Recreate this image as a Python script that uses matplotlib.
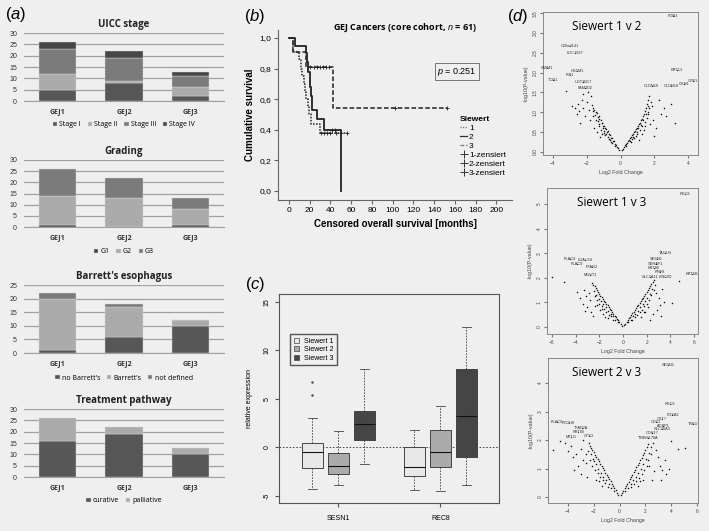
import numpy as np
import matplotlib
matplotlib.use("Agg")
import matplotlib.pyplot as plt
from matplotlib.lines import Line2D
from matplotlib.patches import Patch

plt.rcParams["font.family"] = ["Liberation Sans", "DejaVu Sans"]
plt.rcParams["mathtext.fontset"] = "custom"
plt.rcParams["mathtext.it"] = "Liberation Sans:italic"
plt.rcParams["mathtext.rm"] = "Liberation Sans"
plt.rcParams["mathtext.bf"] = "Liberation Sans:bold"

W, H = 709, 531
BG = "#efefef"

# ---- (a) stacked bars ----
groups = ["GEJ1", "GEJ2", "GEJ3"]

uicc_labels = ["Stage I", "Stage II", "Stage III", "Stage IV"]
uicc_stage_i = [5, 8, 2]
uicc_stage_ii = [7, 1, 4]
uicc_stage_iii = [11, 10, 5]
uicc_stage_iv = [3, 3, 2]

grading_labels = ["G1", "G2", "G3"]
grading_g1 = [1, 0, 1]
grading_g2 = [13, 13, 7]
grading_g3 = [12, 9, 5]

barrett_labels = ["no Barrett's", "Barrett's", "not defined"]
barrett_no = [1, 6, 10]
barrett_yes = [19, 11, 2]
barrett_nd = [2, 1, 0]

treatment_labels = ["curative", "palliative"]
treatment_curative = [16, 19, 10]
treatment_palliative = [10, 3, 3]

# ---- (b) Kaplan-Meier ----
km_names = ["1", "2", "3"]
km1_times = [0, 4, 10, 12, 13, 14, 15, 16, 18, 19, 21, 30]
km1_surv = [1.0, 0.91, 0.86, 0.80, 0.75, 0.70, 0.65, 0.60, 0.55, 0.50, 0.44, 0.38]
km1_end = 56
km1_censored = [31, 34, 37, 40, 45, 50, 56]
km2_times = [0, 6, 16, 17, 18.5, 20, 21, 22, 27, 34, 50]
km2_surv = [1.0, 0.95, 0.90, 0.84, 0.78, 0.68, 0.62, 0.53, 0.47, 0.40, 0.0]
km2_end = 50
km2_censored = [41, 44]
km3_times = [0, 4, 16, 42]
km3_surv = [1.0, 0.91, 0.81, 0.54]
km3_end = 152
km3_censored = [20, 24, 27, 30, 33, 36, 39, 102, 152]

# ---- (c) box plot ----
genes = ["SESN1", "REC8"]
box_groups = ["Siewert 1", "Siewert 2", "Siewert 3"]
# [whislo, q1, med, q3, whishi]
sesn1_s1 = [-4.3, -2.16, -0.52, 0.41, 2.99]
sesn1_s2 = [-3.85, -2.75, -1.86, -0.55, 1.68]
sesn1_s3 = [-1.72, 0.72, 2.37, 3.71, 8.1]
rec8_s1 = [-4.38, -2.9, -1.98, 0.08, 1.8]
rec8_s2 = [-4.45, -2.04, -0.5, 1.77, 4.28]
rec8_s3 = [-3.9, -1.01, 3.21, 8.09, 12.45]
sesn1_s1_outliers = [6.77, 5.4]

# ---- (d) volcano plots ----
v12_x = [-0.08, -0.15, -0.2, -0.28, -0.33, -0.4, -0.45, -0.52, -0.58, -0.63, -0.7, -0.76, -0.8, -0.86,
         -0.92, -0.97, -1.02, -1.08, -1.12, -1.18, -1.25, -1.3, -1.36, -1.42, -1.48, -1.55, -1.62, -1.7,
         -0.5, -0.7, -0.9, -1.0, -1.15, -1.3, -1.45, -1.6, -1.2, -1.55,
         -0.35, -0.55, -0.75, -0.95, -1.05, -1.25, -1.35, -1.5, -1.65, -0.65, -0.85, -1.4, -1.1,
         -2.9, -2.7, -2.5, -2.6, -2.3, -2.2, -2.0, -1.95, -2.1, -2.4, -3.25, -1.85, -1.8, -2.2, -2.45, -1.75,
         0.08, 0.14, 0.2, 0.26, 0.32, 0.38, 0.45, 0.5, 0.57, 0.62, 0.68, 0.74, 0.8, 0.86, 0.92, 0.98,
         1.04, 1.1, 1.16, 1.22, 1.28, 1.34, 1.4, 1.46, 1.52, 1.58, 1.62, 1.68,
         0.6, 0.8, 1.0, 1.15, 1.3, 1.45, 1.1, 1.4, 1.6, 1.55,
         0.35, 0.55, 0.75, 0.95, 1.05, 1.2, 1.35, 1.5, 1.65, 0.7, 0.9, 1.25, 1.45,
         1.7, 1.8, 1.65, 1.9, 2.1, 1.75, 2.4, 2.6, 2.7, 3.0, 3.2, 2.3, 1.85, 2.0]
v12_y = [0.04, 0.1, 0.12, 0.18, 0.2, 0.27, 0.28, 0.35, 0.36, 0.43, 0.45, 0.52, 0.5, 0.58,
         0.6, 0.66, 0.64, 0.73, 0.72, 0.8, 0.82, 0.9, 0.88, 0.97, 1.0, 1.05, 1.1, 1.18,
         0.22, 0.33, 0.42, 0.52, 0.55, 0.65, 0.8, 0.9, 0.38, 0.6,
         0.15, 0.25, 0.38, 0.48, 0.6, 0.7, 0.78, 0.92, 1.02, 0.3, 0.44, 0.5, 0.45,
         1.15, 1.1, 1.2, 0.95, 1.3, 1.45, 1.25, 1.5, 0.9, 0.72, 1.53, 1.05, 0.8, 1.1, 1.02, 1.4,
         0.05, 0.08, 0.13, 0.16, 0.2, 0.23, 0.28, 0.3, 0.36, 0.38, 0.43, 0.45, 0.5, 0.53, 0.58, 0.6,
         0.66, 0.7, 0.74, 0.8, 0.84, 0.9, 0.95, 1.02, 1.1, 1.2, 1.3, 1.42,
         0.25, 0.35, 0.45, 0.55, 0.65, 0.75, 0.3, 0.55, 1.0, 0.85,
         0.15, 0.27, 0.38, 0.5, 0.6, 0.68, 0.8, 0.95, 1.15, 0.33, 0.4, 0.45, 0.65,
         1.1, 1.25, 0.95, 0.8, 0.6, 0.7, 0.95, 1.1, 0.9, 1.2, 0.72, 1.3, 1.15, 0.4]
v12_genes = ["PON3", "C20orf141", "LOC1087", "SMIM1", "TCN1", "GSTM1", "PIP1", "UGT2B17", "FAM3D2",
             "CLDN10", "KRT13", "CLDN18", "GKN1", "CPB1"]
v12_gx = [3.12, -2.99, -2.69, -4.37, -3.98, -2.55, -3.0, -2.2, -2.1, 1.84, 3.32, 3.0, 3.75, 4.3]
v12_gy = [3.43, 2.67, 2.5, 2.12, 1.82, 2.04, 1.94, 1.76, 1.6, 1.66, 2.06, 1.66, 1.72, 1.8]

v13_x = [-0.1, -0.2, -0.3, -0.4, -0.5, -0.6, -0.7, -0.8, -0.9, -1.0, -1.1, -1.2, -1.3, -1.4, -1.5,
         -1.6, -1.7, -1.8, -1.9, -2.0, -2.1, -2.2, -2.3, -2.4, -2.5, -2.6,
         -0.8, -1.0, -1.2, -1.4, -1.6, -1.8, -2.0, -1.3, -1.7, -2.2, -2.4, -1.9, -1.5,
         -0.45, -0.65, -0.85, -1.05, -1.25, -1.45, -1.65, -1.85, -2.05, -2.25, -2.45, -2.15, -1.75,
         -6.0, -4.98, -3.9, -3.3, -3.1, -2.9, -2.8, -3.4, -3.0, -2.7, -3.6, -2.5, -3.2, -2.4,
         0.1, 0.2, 0.3, 0.4, 0.5, 0.6, 0.7, 0.8, 0.9, 1.0, 1.1, 1.2, 1.3, 1.4, 1.5, 1.6, 1.7, 1.8,
         1.9, 2.0, 2.1, 2.2, 2.3, 2.4, 2.5, 2.6,
         0.8, 1.0, 1.2, 1.4, 1.6, 1.8, 2.0, 2.2, 2.4, 1.5, 1.9, 2.6,
         0.45, 0.65, 0.85, 1.05, 1.25, 1.45, 1.65, 1.85, 2.05, 2.25, 2.45, 2.15, 1.75,
         4.1, 4.75, 2.8, 3.0, 3.1, 2.9, 3.3, 2.7, 3.5, 2.5, 3.2, 2.3]
v13_y = [0.06, 0.13, 0.2, 0.27, 0.33, 0.41, 0.47, 0.55, 0.6, 0.68, 0.73, 0.81, 0.88, 0.93, 1.01,
         1.08, 1.13, 1.22, 1.28, 1.36, 1.42, 1.5, 1.57, 1.65, 1.72, 1.8,
         0.3, 0.45, 0.5, 0.6, 0.75, 0.85, 0.95, 0.35, 0.55, 1.1, 1.25, 0.7, 0.4,
         0.2, 0.3, 0.45, 0.55, 0.65, 0.8, 0.95, 1.05, 1.15, 1.3, 1.45, 0.9, 0.75,
         2.05, 1.84, 1.44, 1.5, 1.25, 1.4, 1.1, 0.95, 0.8, 0.6, 1.2, 0.45, 0.65, 0.85,
         0.07, 0.14, 0.21, 0.28, 0.36, 0.42, 0.5, 0.57, 0.63, 0.71, 0.77, 0.85, 0.91, 0.99, 1.05, 1.13,
         1.2, 1.28, 1.35, 1.43, 1.5, 1.58, 1.66, 1.74, 1.83, 1.92,
         0.3, 0.42, 0.5, 0.62, 0.7, 0.85, 0.95, 1.1, 1.3, 0.4, 0.6, 1.5,
         0.2, 0.3, 0.45, 0.55, 0.65, 0.8, 0.95, 1.05, 1.2, 1.35, 1.55, 0.8, 0.6,
         0.96, 1.87, 1.4, 1.2, 0.9, 0.7, 1.55, 1.7, 1.0, 0.55, 0.45, 0.3]
v13_genes = ["REC8", "TAGLN", "SESN1", "SDHAF1", "KRT80", "RNF8", "SLC7A11", "LINC00", "KRT6B",
             "PLAC8", "LGALS4", "PLAC9", "FFAR2", "MGST1"]
v13_gx = [5.23, 3.54, 2.84, 2.75, 2.6, 3.1, 2.3, 3.55, 5.79, -4.47, -3.2, -3.9, -2.64, -2.78]
v13_gy = [5.41, 3.02, 2.76, 2.58, 2.4, 2.22, 2.03, 2.03, 2.15, 2.75, 2.72, 2.58, 2.43, 2.11]

v23_x = [-0.1, -0.2, -0.3, -0.4, -0.5, -0.6, -0.7, -0.8, -0.9, -1.0, -1.1, -1.2, -1.3, -1.4, -1.5,
         -1.6, -1.7, -1.8, -1.9, -2.0, -2.1, -2.2, -2.3, -2.4,
         -0.9, -1.1, -1.3, -1.5, -1.7, -1.9, -2.1, -1.4, -1.8, -2.3, -2.0,
         -0.45, -0.65, -0.85, -1.05, -1.25, -1.45, -1.65, -1.85, -2.05, -2.25, -2.45, -2.6, -1.6,
         -5.14, -4.6, -4.2, -3.8, -3.6, -3.4, -3.2, -3.0, -2.8, -2.6, -3.5, -3.0, -2.5, -4.0, -2.8,
         0.1, 0.2, 0.3, 0.4, 0.5, 0.6, 0.7, 0.8, 0.9, 1.0, 1.1, 1.2, 1.3, 1.4, 1.5, 1.6, 1.7, 1.8,
         1.9, 2.0, 2.1, 2.2,
         0.9, 1.1, 1.3, 1.5, 1.7, 1.9, 2.1, 1.4, 1.8, 2.2,
         0.45, 0.65, 0.85, 1.05, 1.25, 1.45, 1.65, 1.85, 2.05, 2.25, 2.4, 2.3, 1.6,
         2.4, 2.6, 2.8, 3.0, 3.1, 2.7, 3.3, 3.5, 3.8, 4.0, 4.5, 5.06, 3.2, 2.5, 3.6]
v23_y = [0.07, 0.15, 0.23, 0.31, 0.39, 0.47, 0.55, 0.62, 0.7, 0.78, 0.86, 0.94, 1.02, 1.1, 1.17,
         1.25, 1.33, 1.41, 1.49, 1.57, 1.64, 1.72, 1.8, 1.88,
         0.35, 0.5, 0.6, 0.72, 0.85, 0.95, 1.1, 0.4, 0.6, 1.3, 1.25,
         0.2, 0.32, 0.45, 0.6, 0.72, 0.85, 1.0, 1.15, 1.35, 1.5, 1.6, 1.2, 0.55,
         1.65, 1.95, 1.9, 1.8, 1.4, 1.5, 1.1, 1.7, 1.3, 1.5, 0.95, 0.8, 0.7, 1.6, 2.0,
         0.06, 0.14, 0.22, 0.3, 0.38, 0.46, 0.54, 0.62, 0.7, 0.78, 0.87, 0.95, 1.04, 1.12, 1.2, 1.29,
         1.38, 1.47, 1.56, 1.66, 1.76, 1.86,
         0.35, 0.45, 0.55, 0.68, 0.8, 0.95, 1.1, 0.38, 0.6, 1.3,
         0.2, 0.32, 0.45, 0.58, 0.7, 0.85, 1.0, 1.15, 1.35, 1.55, 1.75, 1.1, 0.55,
         1.5, 1.9, 1.65, 1.4, 1.1, 0.9, 0.95, 1.3, 1.0, 1.95, 1.7, 1.71, 0.6, 0.6, 0.8]
v23_genes = ["SESN1", "REC8", "FOXA2", "TSKU", "CST7", "CDX2", "ACBP1", "SLC26A3", "CDH17", "TMEM178A",
             "PLAC8", "PCDH8", "TFAP2A", "KRT80", "GPX2", "MT1G"]
v23_gx = [3.77, 3.9, 4.1, 5.71, 3.26, 2.8, 3.4, 3.3, 2.55, 2.2, -4.85, -3.95, -2.95, -3.2, -2.35, -3.75]
v23_gy = [4.63, 3.25, 2.88, 2.58, 2.75, 2.62, 2.5, 2.38, 2.24, 2.06, 2.64, 2.6, 2.43, 2.27, 2.13, 2.09]


def add_ax(fig, l, t, r, b):
    ax = fig.add_axes([l / W, 1 - b / H, (r - l) / W, (b - t) / H])
    ax.set_facecolor(BG)
    return ax


def bar_panel(fig, box, title, series, labels, colors, ymax, legend_y):
    ax = add_ax(fig, *box)
    x = np.arange(len(groups))
    bottom = np.zeros(len(groups))
    for vals, lab, col in zip(series, labels, colors):
        ax.bar(x, vals, 0.56, bottom=bottom, color=col, label=lab, zorder=3,
               edgecolor="#d8d8d8", linewidth=0.3)
        bottom += np.array(vals)
    ax.set_xlim(-0.5, 2.5)
    ax.set_ylim(0, ymax)
    ax.set_yticks(range(0, ymax + 1, 5))
    ax.yaxis.grid(True, color="#a0a0a0", lw=0.9, zorder=0)
    for s in ["top", "right", "left"]:
        ax.spines[s].set_visible(False)
    ax.spines["bottom"].set_color("#a0a0a0")
    ax.tick_params(axis="y", length=0, labelsize=5, pad=5, labelcolor="#333")
    ax.tick_params(axis="x", length=0, labelsize=5, pad=5)
    ax.set_xticks(x)
    ax.set_xticklabels(groups, fontweight="bold", fontfamily="Open Sans", color="#333")
    ax.set_title(title, fontsize=7, fontweight="bold", fontfamily="Open Sans", pad=4, color="#222")
    ax.legend(loc="center", bbox_to_anchor=(0.5, legend_y), ncol=len(labels), frameon=False,
              handlelength=0.6, handleheight=0.6, handletextpad=0.3, columnspacing=1.0,
              prop={"family": "Open Sans", "size": 5})


def surv_at(times, surv, t):
    idx = np.searchsorted(times, t, side="right") - 1
    return np.array(surv)[idx]


def km_panel(fig):
    ax = add_ax(fig, 278, 30, 512, 200)
    curves = [(km1_times, km1_surv, km1_end, km1_censored, (0, (1, 1)), 1.1),
              (km2_times, km2_surv, km2_end, km2_censored, "-", 1.3),
              (km3_times, km3_surv, km3_end, km3_censored, (0, (3, 1.5)), 1.1)]
    for t, s, end, cens, ls, lw in curves:
        ax.step(list(t) + [end], list(s) + [s[-1]], where="post", color="#222", ls=ls, lw=lw)
        ax.plot(cens, surv_at(t, s, cens), "+", color="#222", ms=3, mew=0.6)
    ax.set_xlim(-10.6, 215)
    ax.set_ylim(-0.059, 1.052)
    ax.set_xticks(range(0, 201, 20))
    ax.set_yticks(np.arange(0, 1.01, 0.2))
    ax.set_yticklabels([f"{v:.1f}".replace(".", ",") for v in np.arange(0, 1.01, 0.2)])
    for s in ["top", "right"]:
        ax.spines[s].set_visible(False)
    for s in ["left", "bottom"]:
        ax.spines[s].set_color("#666")
    ax.tick_params(labelsize=6, length=3, color="#666", pad=2)
    ax.set_xlabel("Censored overall survival [months]", fontsize=7, fontweight="bold", labelpad=4)
    ax.set_ylabel("Cumulative survival", fontsize=7, fontweight="bold", labelpad=3)
    fig.text(405 / W, 1 - 28 / H, r"GEJ Cancers (core cohort, $\it{n}$ = 61)", fontsize=6.5,
             fontweight="bold", ha="center", va="center", fontfamily="Open Sans")
    ax.text(162, 0.78, r"$\it{p}$ = 0.251", fontsize=6.5, ha="center", va="center",
            bbox=dict(boxstyle="square,pad=0.25", fc=BG, ec="#777", lw=0.7))
    handles = [Line2D([], [], color="#777", ls=(0, (1, 1)), lw=0.9),
               Line2D([], [], color="#333", ls="-", lw=0.9),
               Line2D([], [], color="#777", ls=(0, (3, 1.5)), lw=0.9)]
    handles += [Line2D([], [], color="#333", marker="+", ls="", ms=6, mew=0.7) for _ in km_names]
    labels = km_names + [f"{n}-zensiert" for n in km_names]
    leg = ax.legend(handles, labels, title="Siewert", loc="upper left",
                    bbox_to_anchor=(0.745, 0.54), frameon=False, fontsize=6,
                    handlelength=0.9, handletextpad=0.2, labelspacing=0.15,
                    title_fontproperties={"weight": "bold", "size": 6})
    leg._legend_box.align = "left"


def box_panel(fig):
    ax = add_ax(fig, 279, 294, 499, 503)
    data = [[sesn1_s1, sesn1_s2, sesn1_s3], [rec8_s1, rec8_s2, rec8_s3]]
    colors = ["#e8e8e8", "#ababab", "#454545"]
    offsets = [-0.255, 0, 0.255]
    for gi, gene_data in enumerate(data):
        for bi, vals in enumerate(gene_data):
            fl = sesn1_s1_outliers if (gi == 0 and bi == 0) else []
            st = dict(whislo=vals[0], q1=vals[1], med=vals[2], q3=vals[3], whishi=vals[4], fliers=fl)
            ax.bxp([st], positions=[gi + 1 + offsets[bi]], widths=0.205, patch_artist=True,
                   capwidths=0.09,
                   boxprops=dict(facecolor=colors[bi], edgecolor="#444", lw=0.7),
                   medianprops=dict(color="#111", lw=0.8),
                   whiskerprops=dict(color="#444", lw=0.6, ls=(0, (2, 1.5))),
                   capprops=dict(color="#444", lw=0.6),
                   flierprops=dict(marker=".", ms=1.5, color="#444", mec="#444"))
    ax.axhline(0, color="#333", lw=0.6, ls=(0, (2, 2)), zorder=0)
    ax.set_xlim(0.417, 2.574)
    ax.set_ylim(-5.72, 15.8)
    ax.set_xticks([1, 2])
    ax.set_xticklabels(genes)
    ax.set_yticks([-5, 0, 5, 10, 15])
    ax.set_yticklabels(["-5", "0", "5", "10", "15"], rotation=90, va="center")
    ax.tick_params(labelsize=5, length=3, color="#555", pad=3)
    ax.tick_params(axis="x", pad=6)
    for s in ax.spines.values():
        s.set_color("#555")
        s.set_linewidth(0.8)
    ax.set_ylabel("relative expression", fontsize=5, labelpad=8)
    handles = [Patch(facecolor=c, edgecolor="#444", lw=0.5) for c in colors]
    ax.legend(handles, box_groups, loc="upper left", bbox_to_anchor=(0.036, 0.823),
              fontsize=5, fancybox=False, edgecolor="#555", framealpha=1, facecolor=BG,
              handlelength=0.7, handleheight=0.7, labelspacing=0.2, borderpad=0.5)


def volcano_panel(fig, box, title, xs, ys, names, gx, gy, xlim, ylim, xticks, yticks, title_xy):
    ax = add_ax(fig, *box)
    ax.plot(xs, ys, ".", color="#111", ms=2.2, mew=0)
    ax.plot(gx, gy, ".", color="#111", ms=1.6, mew=0)
    for n, x, y in zip(names, gx, gy):
        ax.text(x, y, n, fontsize=2.8, ha="center", va="center", color="#333")
    ax.set_xlim(*xlim)
    ax.set_ylim(*ylim)
    ax.set_xticks(xticks)
    ax.set_yticks(yticks)
    ax.set_yticklabels([str(v) for v in yticks], rotation=90, va="center")
    ax.tick_params(labelsize=3.5, length=2, color="#777", pad=2, labelcolor="#444")
    for s in ax.spines.values():
        s.set_color("#888")
        s.set_linewidth(0.7)
    ax.set_xlabel("Log2 Fold Change", fontsize=3.8, labelpad=3, color="#444")
    ax.set_ylabel("-log10(P-value)", fontsize=3.8, labelpad=3, color="#444")
    ax.text(*title_xy, title, transform=ax.transAxes, fontsize=8.5, ha="center", va="center",
            fontfamily="Open Sans")


def main():
    fig = plt.figure(figsize=(W / 100, H / 100), dpi=100)
    fig.patch.set_facecolor(BG)

    bar_panel(fig, (24, 33, 224, 101), "UICC stage",
              [uicc_stage_i, uicc_stage_ii, uicc_stage_iii, uicc_stage_iv], uicc_labels,
              ["#575757", "#ababab", "#7b7b7b", "#474747"], 30, -0.35)
    bar_panel(fig, (24, 160, 224, 227), "Grading",
              [grading_g1, grading_g2, grading_g3], grading_labels,
              ["#474747", "#ababab", "#7b7b7b"], 30, -0.37)
    bar_panel(fig, (24, 285, 224, 353), "Barrett's esophagus",
              [barrett_no, barrett_yes, barrett_nd], barrett_labels,
              ["#575757", "#ababab", "#7b7b7b"], 25, -0.37)
    bar_panel(fig, (24, 409, 224, 477), "Treatment pathway",
              [treatment_curative, treatment_palliative], treatment_labels,
              ["#575757", "#ababab"], 30, -0.35)

    km_panel(fig)
    box_panel(fig)

    volcano_panel(fig, (543, 12, 698, 155), "Siewert 1 v 2", v12_x, v12_y, v12_genes, v12_gx, v12_gy,
                  (-4.59, 4.59), (-0.08, 3.53), [-4, -2, 0, 2, 4],
                  [0.0, 0.5, 1.0, 1.5, 2.0, 2.5, 3.0, 3.5], (0.41, 0.9))
    volcano_panel(fig, (547, 188, 698, 334), "Siewert 1 v 3", v13_x, v13_y, v13_genes, v13_gx, v13_gy,
                  (-6.41, 6.33), (-0.28, 5.65), [-6, -4, -2, 0, 2, 4, 6],
                  [0, 1, 2, 3, 4, 5], (0.43, 0.9))
    volcano_panel(fig, (548, 358, 698, 503), "Siewert 2 v 3", v23_x, v23_y, v23_genes, v23_gx, v23_gy,
                  (-5.55, 6.08), (-0.21, 4.88), [-4, -2, 0, 2, 4, 6],
                  [0, 1, 2, 3, 4], (0.39, 0.9))

    for lab, x, y in [("a", 16, 15), ("b", 255, 17), ("c", 255, 285), ("d", 518, 16)]:
        fig.text(x / W, 1 - y / H, f"($\\it{{{lab}}}$)", fontsize=12, ha="center", va="center")

    fig.savefig("out.png", dpi=100, facecolor=BG)


if __name__ == "__main__":
    main()
